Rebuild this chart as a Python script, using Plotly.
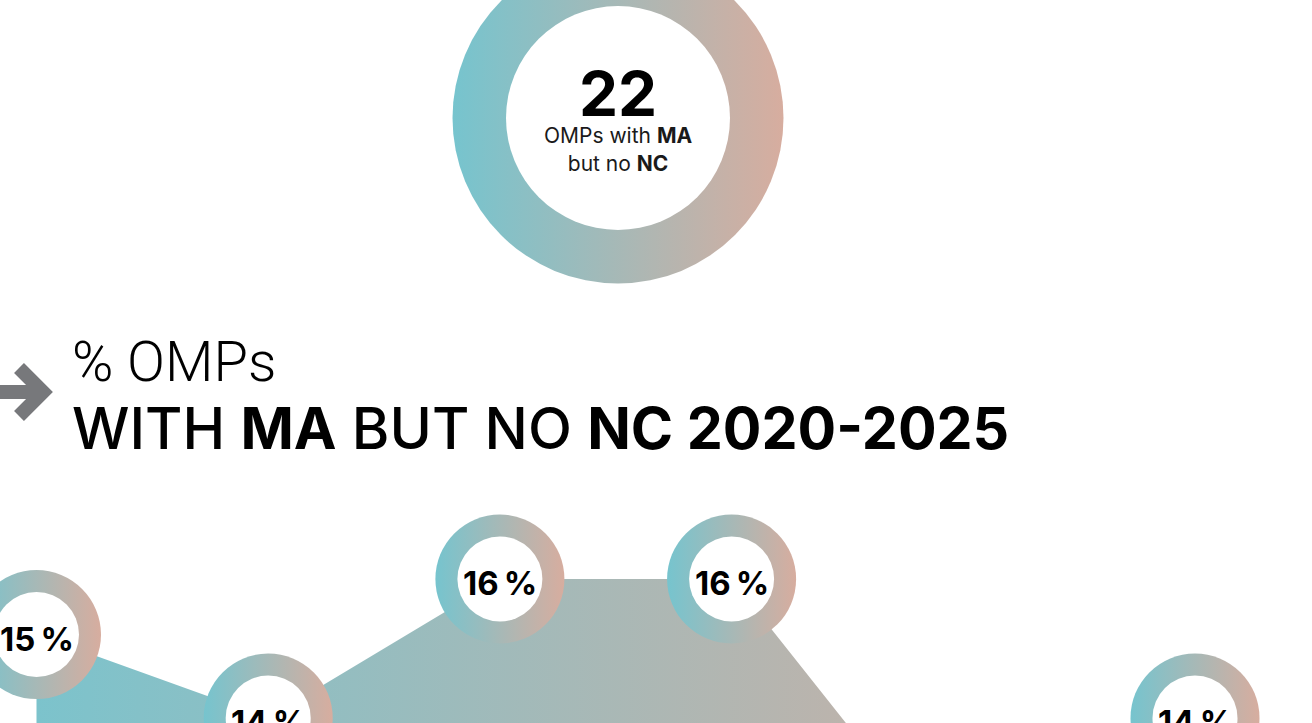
import plotly.graph_objects as go

# ---------------- data ----------------
years = [2020, 2021, 2022, 2023, 2024, 2025]
pct_values = [15.2, 14.0, 16.0, 16.0, 11.8, 14.0]
pct_labels = [f"{round(v)}\u2009%" for v in pct_values]
total_count = 22
total_caption = "OMPs with <b>MA</b><br>but no <b>NC</b>"
title_line1 = "% OMPs"
title_line2 = "WITH <b>MA</b> BUT NO <b>NC 2020-2025</b>"

TEAL = "#76c4ce"
PINK = "#d7ad9f"
W, H = 1312, 723

fig = go.Figure()

# area with horizontal gradient
fig.add_trace(go.Scatter(
    x=years, y=pct_values, mode="lines", line=dict(width=0),
    fill="tozeroy",
    fillgradient=dict(type="horizontal", colorscale=[[0, "#7cc3cc"], [1, PINK]]),
    hoverinfo="skip", showlegend=False))

# gradient rings
fig.add_trace(go.Scatter(
    x=years, y=pct_values, mode="markers",
    marker=dict(size=129, color=TEAL, line=dict(width=0),
                gradient=dict(type="horizontal", color=PINK)),
    hoverinfo="skip", showlegend=False))
fig.add_trace(go.Scatter(
    x=years, y=pct_values, mode="markers",
    marker=dict(size=85, color="white", line=dict(width=0)),
    hoverinfo="skip", showlegend=False))

# top donut (on a pixel-like overlay axis)
fig.add_trace(go.Scatter(
    x=[618], y=[118], mode="markers", xaxis="x2", yaxis="y2",
    marker=dict(size=331, color=TEAL, line=dict(width=0),
                gradient=dict(type="horizontal", color=PINK)),
    hoverinfo="skip", showlegend=False))
fig.add_trace(go.Scatter(
    x=[618], y=[118], mode="markers", xaxis="x2", yaxis="y2",
    marker=dict(size=224, color="white", line=dict(width=0)),
    hoverinfo="skip", showlegend=False))

annotations = [
    dict(x=yr, y=v, xref="x", yref="y", text=lab, showarrow=False,
         yshift=-4, xanchor="center", yanchor="middle",
         font=dict(family="Inter", size=33, color="black", weight="bold"))
    for yr, v, lab in zip(years, pct_values, pct_labels)
]
annotations += [
    dict(x=618, y=116, xref="x2", yref="y2",
         text=f"<span style='font-size:62px;color:#000'><b>{total_count}</b></span><br>{total_caption}",
         showarrow=False, font=dict(family="Inter", size=21, color="#1a1a1a"),
         xanchor="center", yanchor="middle"),
    dict(x=70, y=362, xref="x2", yref="y2", text=title_line1,
         showarrow=False, font=dict(family="Roboto", size=56, color="black", weight=300),
         xanchor="left", yanchor="middle"),
    dict(x=70, y=428, xref="x2", yref="y2", text=title_line2,
         showarrow=False, font=dict(family="Inter", size=57.3, color="black", weight=500),
         xanchor="left", yanchor="middle"),
]

x_per_year = 231.7
x0 = 2020 - 36.5 / x_per_year
x1 = x0 + W / x_per_year
px_per_pct = 69.5
ymax = 16 + 579 / px_per_pct
ymin = ymax - H / px_per_pct

fig.update_layout(
    width=W, height=H, margin=dict(l=0, r=0, t=0, b=0),
    paper_bgcolor="white", plot_bgcolor="white",
    xaxis=dict(range=[x0, x1], visible=False, fixedrange=True),
    yaxis=dict(range=[ymin, ymax], visible=False, fixedrange=True),
    xaxis2=dict(range=[0, W], visible=False, overlaying="x", anchor="y2"),
    yaxis2=dict(range=[H, 0], visible=False, overlaying="y", anchor="x2"),
    annotations=annotations,
    shapes=[dict(type="path", xref="x2", yref="y2",
                 path="M 0,392 L 38,392 M 19,368 L 43,392 L 19,416",
                 line=dict(color="#77787b", width=14), layer="above")],
    showlegend=False,
)

fig.write_html("out.html", config={"displayModeBar": False},
               post_script="document.body.style.margin='0';")
